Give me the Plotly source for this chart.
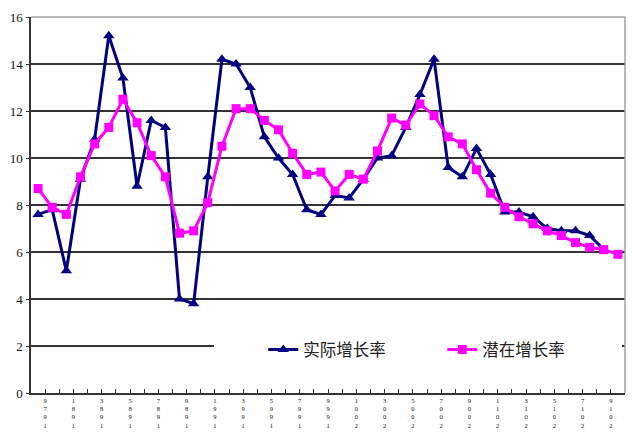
import plotly.graph_objects as go

years = list(range(1979, 2021))
actual_years = list(range(1979, 2020))
actual = [7.6, 7.8, 5.2, 9.1, 10.8, 15.2, 13.4, 8.8, 11.6, 11.3,
          4.0, 3.8, 9.2, 14.2, 14.0, 13.0, 10.9, 10.0, 9.3, 7.8,
          7.6, 8.4, 8.3, 9.1, 10.0, 10.1, 11.3, 12.7, 14.2, 9.6,
          9.2, 10.4, 9.3, 7.7, 7.7, 7.5, 7.0, 6.9, 6.9, 6.7, 6.1]
potential = [8.7, 7.9, 7.6, 9.2, 10.6, 11.3, 12.5, 11.5, 10.1, 9.2,
             6.8, 6.9, 8.1, 10.5, 12.1, 12.1, 11.6, 11.2, 10.2, 9.3,
             9.4, 8.6, 9.3, 9.1, 10.3, 11.7, 11.4, 12.3, 11.8, 10.9,
             10.6, 9.5, 8.5, 7.9, 7.5, 7.2, 6.9, 6.7, 6.4, 6.2, 6.1, 5.9]
label_years = list(range(1979, 2021, 2))
tick_labels = ["<br>".join(reversed(str(y))) for y in label_years]
y_ticks = [0, 2, 4, 6, 8, 10, 12, 14, 16]

fig = go.Figure()
fig.add_trace(go.Scatter(
    x=actual_years, y=actual, name="实际增长率", mode="lines+markers",
    line=dict(color="#000080", width=3),
    marker=dict(symbol="triangle-up", size=10, color="#000080"),
))
fig.add_trace(go.Scatter(
    x=years, y=potential, name="潜在增长率", mode="lines+markers",
    line=dict(color="#FF00FF", width=3),
    marker=dict(symbol="square", size=9, color="#FF00FF"),
))

fig.update_layout(
    width=624, height=425,
    margin=dict(l=23, r=7, t=9, b=40),
    paper_bgcolor="white", plot_bgcolor="white",
    showlegend=True,
    legend=dict(
        orientation="h", x=0.391, y=0.115, xanchor="left", yanchor="middle",
        bgcolor="rgba(0,0,0,0)", borderwidth=0,
        font=dict(family="Noto Sans CJK SC", size=16.5, color="#222"),
        entrywidth=134, entrywidthmode="pixels",
    ),
    xaxis=dict(
        range=[1978.5, 2020.5], tickmode="array", automargin=False,
        tickvals=[y + 0.5 for y in label_years], ticktext=tick_labels,
        ticks="inside", ticklen=4, tickcolor="#333", tickwidth=1,
        showgrid=False, zeroline=False,
        showline=True, linecolor="#333", linewidth=1.5,
        tickfont=dict(family="Liberation Serif", size=6.5, color="#111"),
        minor=dict(ticks="inside", ticklen=4, tickcolor="#333", tickwidth=1,
                   tick0=1978.5, dtick=1, showgrid=False),
    ),
    yaxis=dict(
        range=[0, 16], tickmode="array", tickvals=y_ticks, automargin=False,
        ticks="outside", ticklen=3, tickcolor="#333", ticklabelstandoff=1,
        showgrid=True, gridcolor="#333", gridwidth=1.5,
        zeroline=False, showline=True, linecolor="#333", linewidth=1.5,
        tickfont=dict(family="Liberation Serif", size=13, color="#111"),
    ),
    shapes=[
        dict(type="rect", xref="x", yref="y", x0=1991.44, x1=2020.29,
             y0=1.6, y1=2.4, fillcolor="white", line=dict(width=0), layer="above"),
        dict(type="line", xref="paper", yref="paper", x0=0, x1=1, y0=1, y1=1,
             line=dict(color="#a0a0a0", width=1.5), layer="above"),
        dict(type="line", xref="paper", yref="paper", x0=1, x1=1, y0=0, y1=1,
             line=dict(color="#a0a0a0", width=1.5), layer="above"),
    ],
)

fig.write_html("out.html")
